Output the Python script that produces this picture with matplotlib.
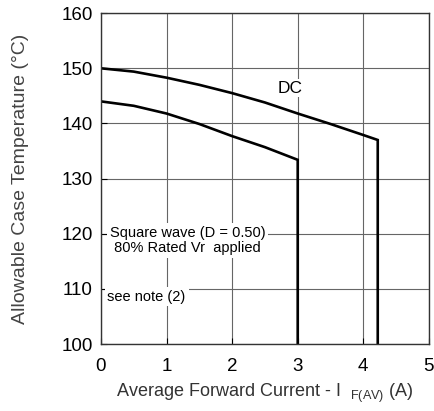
import matplotlib
matplotlib.use('Agg')
import matplotlib.pyplot as plt

plt.rcParams['font.family'] = ['Liberation Sans', 'DejaVu Sans']
plt.rcParams['mathtext.default'] = 'regular'

# DC curve
dc_x = [0, 0.5, 1.0, 1.5, 2.0, 2.5, 3.0, 3.5, 4.0, 4.22]
dc_y = [150.0, 149.4, 148.3, 147.0, 145.5, 143.8, 141.8, 139.9, 137.9, 137.0]
# square wave curve
sq_x = [0, 0.5, 1.0, 1.5, 2.0, 2.5, 3.0]
sq_y = [144.0, 143.2, 141.8, 139.9, 137.7, 135.7, 133.4]

xticks = [0, 1, 2, 3, 4, 5]
yticks = [100, 110, 120, 130, 140, 150, 160]

fig = plt.figure(figsize=(4.35, 4.11), dpi=100)
ax = fig.add_axes([0.232, 0.163, 0.754, 0.805])

ax.grid(True, color='#666666', linewidth=0.8)
ax.set_axisbelow(True)

# curves with vertical drop to the x axis
ax.plot(dc_x + [dc_x[-1]], dc_y + [100], color='black', linewidth=1.9, solid_joinstyle='miter')
ax.plot(sq_x + [sq_x[-1]], sq_y + [100], color='black', linewidth=1.9, solid_joinstyle='miter')

ax.set_xlim(0, 5)
ax.set_ylim(100, 160)
ax.set_xticks(xticks)
ax.set_yticks(yticks)
ax.tick_params(direction='in', length=4, labelsize=13.5, colors='black')
ax.tick_params(axis='x', pad=10)
ax.tick_params(axis='y', pad=6)
for s in ax.spines.values():
    s.set_color('#333333')
    s.set_linewidth(1.0)

ax.text(2.885, 146.4, 'DC', fontsize=12.5, ha='center', va='center',
        bbox=dict(facecolor='white', edgecolor='none', pad=1))
ax.text(0.14, 118.8, 'Square wave (D = 0.50)\n 80% Rated Vr  applied', fontsize=10.5,
        ha='left', va='center', linespacing=1.1,
        bbox=dict(facecolor='white', edgecolor='none', pad=2))
ax.text(0.1, 108.6, 'see note (2)', fontsize=10.5, ha='left', va='center',
        bbox=dict(facecolor='white', edgecolor='none', pad=2))

ax.set_xlabel('Average Forward Current - I  $_{F(AV)}$ (A)', fontsize=13, color='#333333', labelpad=5)
ax.set_ylabel('Allowable Case Temperature (°C)', fontsize=14, color='#444444', labelpad=23)

fig.savefig('out.png', dpi=100)
